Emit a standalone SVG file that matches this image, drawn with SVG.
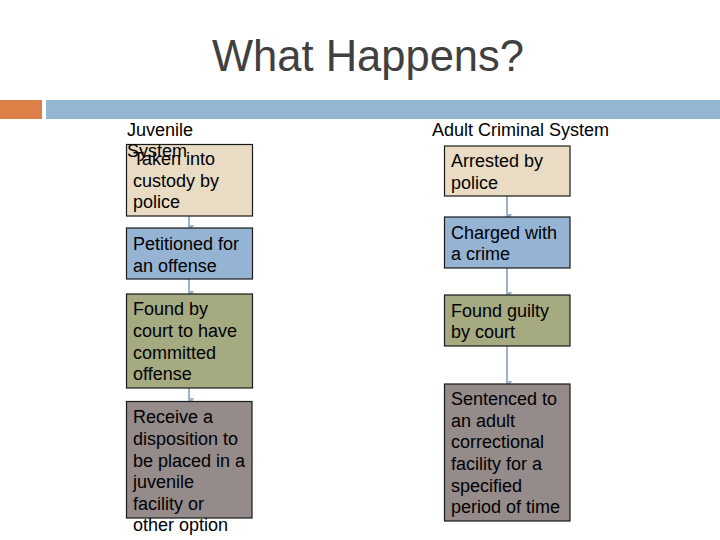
<svg xmlns="http://www.w3.org/2000/svg" width="720" height="540" viewBox="0 0 720 540">
<defs>
<style>
.t{font-family:"Liberation Sans",Arial,sans-serif;font-size:18px;fill:#000}
.box{stroke:#1a1a1a;stroke-width:1.2}
.tan{fill:#eadcc4}
.blue{fill:#95b3d3}
.green{fill:#a5aa80}
.mauve{fill:#958b8b}
.c{stroke:#9db3cc;stroke-width:2;fill:none;marker-end:url(#ah)}
</style>
<marker id="ah" viewBox="0 0 6 6" refX="3" refY="5" markerWidth="6" markerHeight="6" markerUnits="userSpaceOnUse" orient="auto-start-reverse">
<path d="M0,0 L6,0 L3,6 Z" fill="#9db3cc" transform="rotate(-90 3 3)"/>
</marker>
</defs>
<rect width="720" height="540" fill="#fff"/>
<g id="header">
<text x="368" y="71" text-anchor="middle" style="font-family:'Liberation Sans',Arial,sans-serif;font-size:43.5px;fill:#404040">What Happens?</text>
<rect x="0" y="100" width="42" height="19" fill="#dd8047"/>
<rect x="46" y="100" width="674" height="19" fill="#94b6d2"/>
</g>
<g id="connectors">
<line class="c" x1="189" y1="216" x2="189" y2="228"/>
<line class="c" x1="189" y1="279" x2="189" y2="294"/>
<line class="c" x1="189" y1="388" x2="189" y2="401"/>
<line class="c" x1="507" y1="196" x2="507" y2="217"/>
<line class="c" x1="507" y1="268" x2="507" y2="295"/>
<line class="c" x1="507" y1="346" x2="507" y2="384"/>
</g>
<g id="j1"><rect class="box tan" x="126.5" y="144.5" width="126" height="71.5"/>
<text class="t" x="133" y="165">Taken into</text><text class="t" x="133" y="187">custody by</text><text class="t" x="133" y="208">police</text></g>
<g id="j2"><rect class="box blue" x="126.5" y="228" width="126" height="51"/>
<text class="t" x="133" y="250">Petitioned for</text><text class="t" x="133" y="272">an offense</text></g>
<g id="j3"><rect class="box green" x="126.5" y="294" width="126" height="94"/>
<text class="t" x="133" y="315">Found by</text><text class="t" x="133" y="337">court to have</text><text class="t" x="133" y="359">committed</text><text class="t" x="133" y="380">offense</text></g>
<g id="j4"><rect class="box mauve" x="126.5" y="401.5" width="125.5" height="116.5"/>
<text class="t" x="133" y="423">Receive a</text><text class="t" x="133" y="445">disposition to</text><text class="t" x="133" y="467">be placed in a</text><text class="t" x="133" y="488">juvenile</text><text class="t" x="133" y="510">facility or</text><text class="t" x="133" y="531">other option</text></g>
<g id="a1"><rect class="box tan" x="444.5" y="146" width="125.5" height="50"/>
<text class="t" x="451" y="167">Arrested by</text><text class="t" x="451" y="189">police</text></g>
<g id="a2"><rect class="box blue" x="444.5" y="217" width="125.5" height="51"/>
<text class="t" x="451" y="239">Charged with</text><text class="t" x="451" y="260">a crime</text></g>
<g id="a3"><rect class="box green" x="444.5" y="295" width="125.5" height="51"/>
<text class="t" x="451" y="317">Found guilty</text><text class="t" x="451" y="338">by court</text></g>
<g id="a4"><rect class="box mauve" x="444.5" y="384" width="125.5" height="137"/>
<text class="t" x="451" y="405">Sentenced to</text><text class="t" x="451" y="427">an adult</text><text class="t" x="451" y="448">correctional</text><text class="t" x="451" y="470">facility for a</text><text class="t" x="451" y="492">specified</text><text class="t" x="451" y="513">period of time</text></g>
<g id="labels">
<text class="t" x="127" y="136">Juvenile</text>
<text class="t" x="127" y="157">System</text>
<text class="t" x="432" y="136">Adult Criminal System</text>
</g>
</svg>
